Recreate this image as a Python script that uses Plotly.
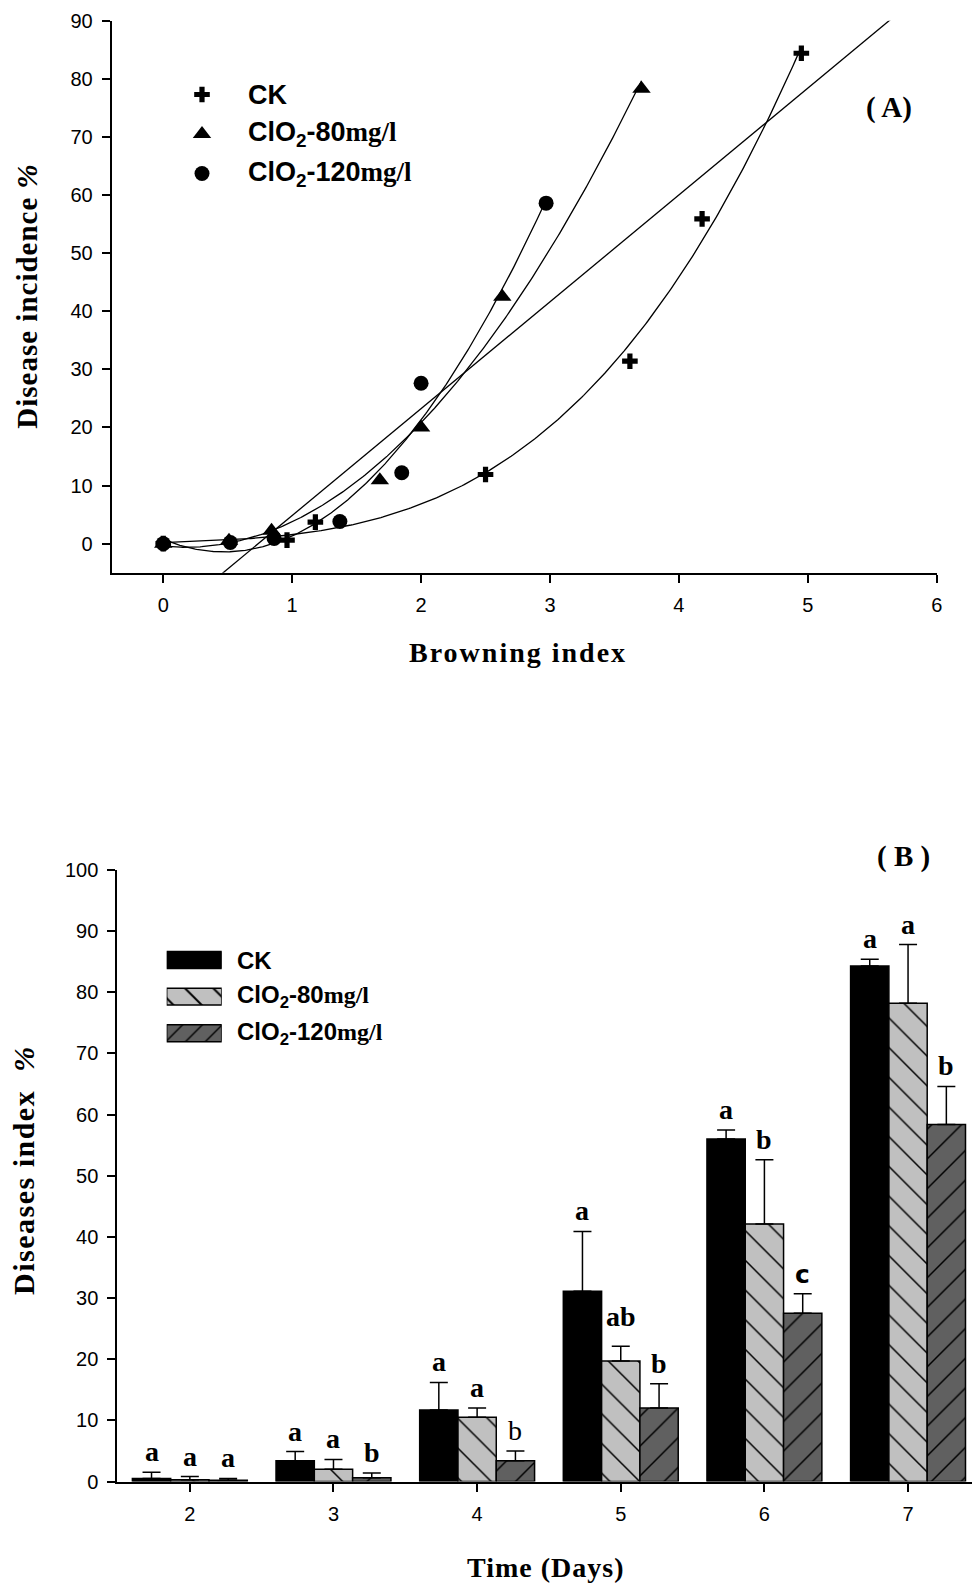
import numpy as np
import plotly.graph_objects as go

# ---------------- Panel A data (browning index vs disease incidence) ----------------
ck_bi = [0.0, 0.96, 1.18, 2.50, 3.62, 4.18, 4.95]
ck_di = [0.0, 0.6, 3.7, 11.9, 31.4, 55.9, 84.4]
t80_bi = [0.0, 0.51, 0.84, 1.68, 2.00, 2.63, 3.71]
t80_di = [0.0, 0.5, 2.2, 10.9, 20.0, 42.5, 78.3]
t120_bi = [0.0, 0.52, 0.86, 1.37, 1.85, 2.00, 2.97]
t120_di = [0.0, 0.2, 0.9, 3.8, 12.2, 27.6, 58.6]
fit_degree = [3, 2, 2]        # polynomial regression order for CK, 80, 120
linear_fit = [18.39, -13.55]  # slope, intercept of the straight regression line

# ---------------- Panel B data (disease index by day) ----------------
days = [2, 3, 4, 5, 6, 7]
ck_val = [0.5, 3.4, 11.7, 31.1, 56.0, 84.3]
ck_err = [1.0, 1.5, 4.5, 9.8, 1.5, 1.1]
t80_val = [0.3, 2.0, 10.5, 19.7, 42.1, 78.2]
t80_err = [0.5, 1.6, 1.5, 2.4, 10.5, 9.6]
t120_val = [0.2, 0.6, 3.4, 12.0, 27.5, 58.4]
t120_err = [0.3, 0.8, 1.6, 4.0, 3.2, 6.2]
ck_lab = ["a", "a", "a", "a", "a", "a"]
t80_lab = ["a", "a", "a", "ab", "b", "a"]
t120_lab = ["a", "b", "b", "b", "c", "b"]

series_names = ["CK", "ClO2-80mg/l", "ClO2-120mg/l"]

SERIF = "Liberation Serif, Times New Roman, serif"
SANS = "Liberation Sans, Arial, sans-serif"
W, H = 980, 1583
OFF = 8  # page body margin that the browser adds around the figure


def px(p):
    return (p - OFF) / W


def py(p):
    return 1 - (p - OFF) / H


def legend_html(name):
    if name.startswith("ClO2"):
        rest = name[4:]
        num, unit = rest.split("mg")
        return ("<b>ClO<sub>2</sub>" + num + "<span style='font-family:Liberation Serif'>mg"
                + unit + "</span></b>")
    return "<b>" + name + "</b>"


fig = go.Figure()

# ---------- Panel A: fit curves ----------
for (bi, di), deg in zip([(ck_bi, ck_di), (t80_bi, t80_di), (t120_bi, t120_di)], fit_degree):
    coef = np.polyfit(bi, di, deg)
    xs = np.linspace(min(bi), max(bi), 300)
    fig.add_trace(go.Scatter(x=xs, y=np.polyval(coef, xs), mode="lines",
                             line=dict(color="black", width=1.3),
                             xaxis="x", yaxis="y", showlegend=False, hoverinfo="skip"))
xl = np.linspace(-0.4, 6, 50)
fig.add_trace(go.Scatter(x=xl, y=np.polyval(linear_fit, xl), mode="lines",
                         line=dict(color="black", width=1.3),
                         xaxis="x", yaxis="y", showlegend=False, hoverinfo="skip"))

symbols = ["cross", "triangle-up", "circle"]
msizes = [13, 16, 15]
for bi, di, sym, ms in [(ck_bi, ck_di, symbols[0], msizes[0]),
                        (t80_bi, t80_di, symbols[1], msizes[1]),
                        (t120_bi, t120_di, symbols[2], msizes[2])]:
    fig.add_trace(go.Scatter(x=bi, y=di, mode="markers",
                             marker=dict(symbol=sym, size=ms, color="black",
                                         line=dict(width=0)),
                             xaxis="x", yaxis="y", showlegend=False, cliponaxis=False))

# Panel A legend (hidden axes)
for i, nm in enumerate(series_names):
    fig.add_trace(go.Scatter(x=[0.5], y=[nm], mode="markers",
                             marker=dict(symbol=symbols[i], size=msizes[i], color="black"),
                             xaxis="x4", yaxis="y4", showlegend=False, hoverinfo="skip",
                             cliponaxis=False))
    fig.add_annotation(x=px(246), xref="paper", y=nm, yref="y4", xanchor="left",
                       yanchor="middle", showarrow=False, text=legend_html(nm),
                       font=dict(family=SANS, size=27, color="black"))

# ---------- Panel B: bars ----------
bar_specs = [
    (ck_val, ck_err, "black", "", 21, 20),
    (t80_val, t80_err, "#c0c0c0", "\\", 21, 20),
    (t120_val, t120_err, "#606060", "/", 21, 14),
]
for nm, (vals, errs, col, shape, psize, lsize) in zip(series_names, bar_specs):
    pattern = dict(shape=shape, fgcolor="black", bgcolor=col, size=psize,
                   solidity=0.07, fillmode="replace") if shape else None
    fig.add_trace(go.Bar(
        x=days, y=vals, name=nm,
        marker=dict(color=col, line=dict(color="black", width=1.5), pattern=pattern),
        error_y=dict(type="data", array=errs, arrayminus=[0] * len(errs), symmetric=False,
                     color="black", thickness=1.5, width=9),
        xaxis="x2", yaxis="y2", showlegend=False))
    # legend swatch (hidden axes)
    lpattern = dict(shape=shape, fgcolor="black", bgcolor=col, size=lsize,
                    solidity=0.1, fillmode="replace") if shape else None
    fig.add_trace(go.Bar(
        x=[1], y=[nm], orientation="h", width=0.46, offset=-0.23,
        marker=dict(color=col, line=dict(color="black", width=1.5), pattern=lpattern),
        xaxis="x3", yaxis="y3", showlegend=False, hoverinfo="skip"))
    fig.add_annotation(x=px(235), xref="paper", y=nm, yref="y3", xanchor="left",
                       yanchor="middle", showarrow=False, text=legend_html(nm),
                       font=dict(family=SANS, size=24, color="black"))

# Significance letters
bw = 0.8 / 3
for k, (vals, errs, labs) in enumerate([(ck_val, ck_err, ck_lab),
                                         (t80_val, t80_err, t80_lab),
                                         (t120_val, t120_err, t120_lab)]):
    for i, d in enumerate(days):
        fam, txt, size, shift = SERIF, "<b>" + labs[i] + "</b>", 28, 3
        if k == 2 and d == 4:
            txt = labs[i]
        if k == 2 and d == 6:
            fam, size = "DejaVu Sans, sans-serif", 25
        if len(labs[i]) > 1:
            shift = 12
        fig.add_annotation(x=d + (k - 1) * bw, xref="x2", y=vals[i] + errs[i], yref="y2",
                           xanchor="center", yanchor="bottom", yshift=shift, showarrow=False,
                           text=txt, font=dict(family=fam, size=size, color="black"))


# ---------- Titles / panel tags ----------
def centered(xp, yp, text, size, angle=0, spacing=0):
    if spacing:
        text = "<span style='letter-spacing:%gpx'>%s</span>" % (spacing, text)
    fig.add_annotation(x=px(xp), y=py(yp), xref="paper", yref="paper", showarrow=False,
                       xanchor="center", yanchor="middle", textangle=angle,
                       text=text, font=dict(family=SERIF, size=size, color="black"))


centered(518, 653, "<b>Browning index</b>", 28, spacing=2)
centered(27, 296.7, "<b>Disease incidence <i>%</i></b>", 29, -90, spacing=1)
centered(545, 1567, "<b>Time (Days)</b>", 28, spacing=1)
centered(23, 1170, "<b>Diseases index  <i>%</i></b>", 30, -90, spacing=1.5)
centered(889, 107, "<b>( A)</b>", 29)
centered(903, 856, "<b>( B )</b>", 29)

tick_font = dict(family=SANS, size=20, color="black")
common_axis = dict(showline=True, linecolor="black", linewidth=2, ticks="outside",
                   ticklen=8, tickwidth=1.5, tickcolor="black", showgrid=False,
                   zeroline=False, tickfont=tick_font, ticklabelstandoff=5, mirror=False,
                   automargin=False)

fig.update_layout(
    width=W, height=H, margin=dict(l=0, r=0, t=0, b=0, autoexpand=False),
    paper_bgcolor="white", plot_bgcolor="white",
    showlegend=False, barmode="group", bargap=0.2, bargroupgap=0,
    xaxis=dict(domain=[px(111.7), px(936.7)], range=[-0.4, 6], tickvals=[0, 1, 2, 3, 4, 5, 6],
               anchor="y", **common_axis),
    yaxis=dict(domain=[py(572.7), py(20.7)], range=[-5, 90], tickvals=list(range(0, 91, 10)),
               anchor="x", **common_axis),
    xaxis2=dict(domain=[px(117.3), px(978)], range=[1.495, 7.487], tickvals=days,
                anchor="y2", **common_axis),
    yaxis2=dict(domain=[py(1481.5), py(870)], range=[0, 100], tickvals=list(range(0, 101, 10)),
                anchor="x2", **common_axis),
    xaxis3=dict(domain=[px(166.7), px(221.7)], range=[0, 1], visible=False, anchor="y3",
                automargin=False),
    yaxis3=dict(domain=[py(1051.6), py(941.7)], type="category", autorange="reversed",
                visible=False, anchor="x3", automargin=False),
    xaxis4=dict(domain=[px(192), px(212)], range=[0, 1], visible=False, anchor="y4",
                automargin=False),
    yaxis4=dict(domain=[py(192.5), py(77.5)], type="category", autorange="reversed",
                visible=False, anchor="x4", automargin=False),
)

fig.write_html("out.html")
